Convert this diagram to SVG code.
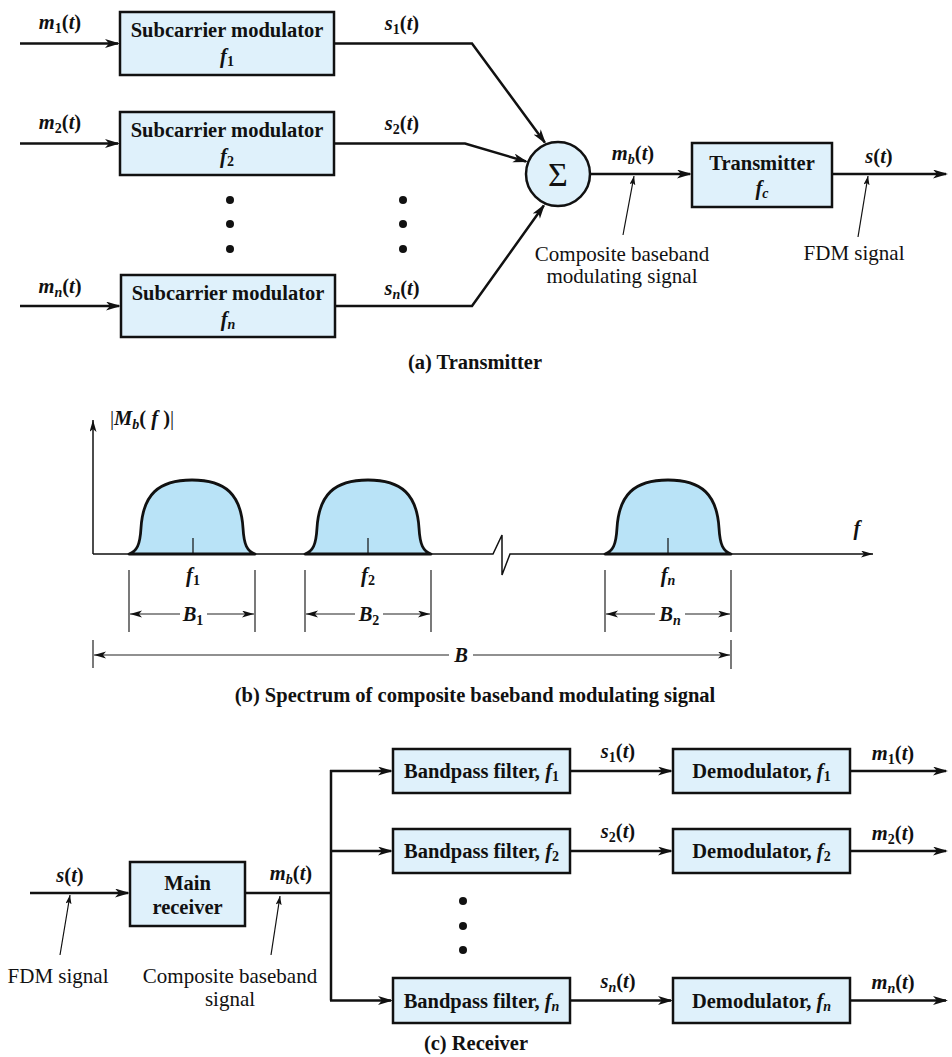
<svg xmlns="http://www.w3.org/2000/svg" width="952" height="1057" viewBox="0 0 952 1057" font-family="Liberation Serif, serif">
<style>
text{font-family:"Liberation Serif",serif;fill:#111;font-size:20.5px;font-weight:bold}
.r{font-size:21px;font-weight:normal}
.it{font-style:italic}
.sub{font-size:14px;font-style:normal}
.subi{font-size:14px;font-style:italic}
.box{fill:#dff1fb;stroke:#111;stroke-width:2.5}
.ln{fill:none;stroke:#111;stroke-width:2.5}
.thin{fill:none;stroke:#111;stroke-width:1.2}
.ax{fill:none;stroke:#111;stroke-width:1.5}
.dim{fill:none;stroke:#222;stroke-width:1.2}
.pulse{fill:#b9e3f7;stroke:#111;stroke-width:2.8;stroke-linejoin:round}
.dot{fill:#111}
</style>
<defs>
<marker id="ah" markerUnits="userSpaceOnUse" markerWidth="16" markerHeight="10" refX="13" refY="4.5" orient="auto"><path d="M0,0 L15,4.5 L0,9 L4,4.5 Z" fill="#111"/></marker>
<marker id="as" markerUnits="userSpaceOnUse" markerWidth="10" markerHeight="7" refX="9" refY="3" orient="auto"><path d="M0,0 L9,3 L0,6 L2,3 Z" fill="#111"/></marker>
<marker id="ad" markerUnits="userSpaceOnUse" markerWidth="13" markerHeight="8" refX="12" refY="3.5" orient="auto"><path d="M0,0 L12,3.5 L0,7 L3,3.5 Z" fill="#111"/></marker>
</defs>

<g id="connectors">
  <path class="ln" d="M20,43.5 H118" marker-end="url(#ah)"/>
  <path class="ln" d="M20,143.5 H118" marker-end="url(#ah)"/>
  <path class="ln" d="M20,306 H119" marker-end="url(#ah)"/>
  <path class="ln" d="M334,43.5 H472 L544.8,142.4" marker-end="url(#ah)"/>
  <path class="ln" d="M334,143.5 H465 L526,161.5" marker-end="url(#ah)"/>
  <path class="ln" d="M335,306 H472 L543.8,205.6" marker-end="url(#ah)"/>
  <path class="ln" d="M590,174 H690" marker-end="url(#ah)"/>
  <path class="ln" d="M832,174 H946" marker-end="url(#ah)"/>
  <path class="thin" d="M623,235 L634,176" marker-end="url(#as)"/>
  <path class="thin" d="M858,237 L868,176" marker-end="url(#as)"/>
  <path class="ln" d="M30,893 H128" marker-end="url(#ah)"/>
  <path class="ln" d="M245,893 H331"/>
  <path class="ln" d="M331,770 V1000.5"/>
  <path class="ln" d="M330,771 H391" marker-end="url(#ah)"/>
  <path class="ln" d="M330,851 H391" marker-end="url(#ah)"/>
  <path class="ln" d="M330,1000.5 H391" marker-end="url(#ah)"/>
  <path class="ln" d="M570,771 H671" marker-end="url(#ah)"/>
  <path class="ln" d="M570,851 H671" marker-end="url(#ah)"/>
  <path class="ln" d="M570,1000.5 H671" marker-end="url(#ah)"/>
  <path class="ln" d="M850,771 H946" marker-end="url(#ah)"/>
  <path class="ln" d="M850,851 H946" marker-end="url(#ah)"/>
  <path class="ln" d="M850,1000.5 H946" marker-end="url(#ah)"/>
  <path class="thin" d="M60,955 L70,895" marker-end="url(#as)"/>
  <path class="thin" d="M271,955 L280,896" marker-end="url(#as)"/>
</g>

<g id="sm1">
  <rect class="box" x="120" y="12" width="214" height="63"/>
  <text x="227" y="37" text-anchor="middle">Subcarrier modulator</text>
  <text x="227" y="63" text-anchor="middle"><tspan class="it">f</tspan><tspan class="sub" dy="3">1</tspan></text>
</g>
<g id="sm2">
  <rect class="box" x="120" y="112" width="214" height="63"/>
  <text x="227" y="137" text-anchor="middle">Subcarrier modulator</text>
  <text x="227" y="163" text-anchor="middle"><tspan class="it">f</tspan><tspan class="sub" dy="3">2</tspan></text>
</g>
<g id="smn">
  <rect class="box" x="121" y="275" width="214" height="62"/>
  <text x="228" y="300" text-anchor="middle">Subcarrier modulator</text>
  <text x="228" y="326" text-anchor="middle"><tspan class="it">f</tspan><tspan class="subi" dy="3">n</tspan></text>
</g>
<g id="sum">
  <circle cx="558" cy="174" r="32" fill="#dff1fb" stroke="#111" stroke-width="2.5"/>
  <text x="558" y="186" text-anchor="middle" style="font-size:34px;font-weight:normal">Σ</text>
</g>
<g id="tx">
  <rect class="box" x="692" y="143" width="140" height="64"/>
  <text x="762" y="170" text-anchor="middle">Transmitter</text>
  <text x="762" y="195" text-anchor="middle"><tspan class="it">f</tspan><tspan class="subi" dy="3">c</tspan></text>
</g>
<g id="tx-dots">
  <circle class="dot" cx="230" cy="200" r="4"/><circle class="dot" cx="230" cy="224" r="4"/><circle class="dot" cx="230" cy="249" r="4"/>
  <circle class="dot" cx="403" cy="200" r="4"/><circle class="dot" cx="403" cy="224" r="4"/><circle class="dot" cx="403" cy="249" r="4"/>
</g>
<g id="tx-labels">
  <text x="60" y="29" text-anchor="middle"><tspan class="it">m</tspan><tspan class="sub" dy="4">1</tspan><tspan dy="-4">(</tspan><tspan class="it">t</tspan>)</text>
  <text x="60" y="129" text-anchor="middle"><tspan class="it">m</tspan><tspan class="sub" dy="4">2</tspan><tspan dy="-4">(</tspan><tspan class="it">t</tspan>)</text>
  <text x="60" y="293" text-anchor="middle"><tspan class="it">m</tspan><tspan class="subi" dy="4">n</tspan><tspan dy="-4">(</tspan><tspan class="it">t</tspan>)</text>
  <text x="402" y="30" text-anchor="middle"><tspan class="it">s</tspan><tspan class="sub" dy="4">1</tspan><tspan dy="-4">(</tspan><tspan class="it">t</tspan>)</text>
  <text x="402" y="130" text-anchor="middle"><tspan class="it">s</tspan><tspan class="sub" dy="4">2</tspan><tspan dy="-4">(</tspan><tspan class="it">t</tspan>)</text>
  <text x="402" y="295" text-anchor="middle"><tspan class="it">s</tspan><tspan class="subi" dy="4">n</tspan><tspan dy="-4">(</tspan><tspan class="it">t</tspan>)</text>
  <text x="633" y="160" text-anchor="middle"><tspan class="it">m</tspan><tspan class="subi" dy="4">b</tspan><tspan dy="-4">(</tspan><tspan class="it">t</tspan>)</text>
  <text x="879" y="163" text-anchor="middle"><tspan class="it">s</tspan>(<tspan class="it">t</tspan>)</text>
  <text class="r" x="622" y="261" text-anchor="middle">Composite baseband</text>
  <text class="r" x="622" y="283" text-anchor="middle">modulating signal</text>
  <text class="r" x="854" y="260" text-anchor="middle">FDM signal</text>
  <text x="475" y="369" text-anchor="middle">(a) Transmitter</text>
</g>

<g id="spectrum">
  <path class="ax" d="M93,554 V420" marker-end="url(#ad)"/>
  <path class="ax" d="M93,554 H493 L502,535 V575 L510,554 H873" marker-end="url(#ad)"/>
  <path class="pulse" d="M129,554 C137,551 140,545 141,528 C143,495 158,480 192,480 C226,480 241,495 243,528 C244,545 247,551 255,554 Z"/>
  <path class="pulse" d="M305,554 C313,551 316,545 317,528 C319,495 334,480 368,480 C402,480 417,495 419,528 C420,545 423,551 431,554 Z"/>
  <path class="pulse" d="M605,554 C613,551 616,545 617,528 C619,495 634,480 668,480 C702,480 717,495 719,528 C720,545 723,551 731,554 Z"/>
  <path class="thin" d="M193,538 V554 M368,538 V554 M668,538 V554"/>
  <path class="dim" d="M129,570 V632 M255,570 V632 M305,570 V632 M431,570 V632 M605,570 V632 M731,570 V632 M93,640 V668 M731,640 V669"/>
  <path class="dim" d="M180,614 H130" marker-end="url(#ad)"/>
  <path class="dim" d="M207,614 H254" marker-end="url(#ad)"/>
  <path class="dim" d="M355,614 H306" marker-end="url(#ad)"/>
  <path class="dim" d="M383,614 H430" marker-end="url(#ad)"/>
  <path class="dim" d="M655,614 H606" marker-end="url(#ad)"/>
  <path class="dim" d="M685,614 H730" marker-end="url(#ad)"/>
  <path class="dim" d="M449,655 H94" marker-end="url(#ad)"/>
  <path class="dim" d="M473,655 H730" marker-end="url(#ad)"/>
  <text x="110" y="425"><tspan style="font-weight:normal">|</tspan><tspan class="it">M</tspan><tspan class="subi" dy="4">b</tspan><tspan dy="-4">(</tspan><tspan class="it"> f </tspan>)<tspan style="font-weight:normal">|</tspan></text>
  <text class="it" x="857" y="535" text-anchor="middle">f</text>
  <text x="193" y="582" text-anchor="middle"><tspan class="it">f</tspan><tspan class="sub" dy="3">1</tspan></text>
  <text x="368" y="582" text-anchor="middle"><tspan class="it">f</tspan><tspan class="sub" dy="3">2</tspan></text>
  <text x="668" y="582" text-anchor="middle"><tspan class="it">f</tspan><tspan class="subi" dy="3">n</tspan></text>
  <text x="193" y="621" text-anchor="middle"><tspan class="it">B</tspan><tspan class="sub" dy="4">1</tspan></text>
  <text x="369" y="621" text-anchor="middle"><tspan class="it">B</tspan><tspan class="sub" dy="4">2</tspan></text>
  <text x="670" y="621" text-anchor="middle"><tspan class="it">B</tspan><tspan class="subi" dy="4">n</tspan></text>
  <text class="it" x="461" y="662" text-anchor="middle">B</text>
  <text x="475" y="702" text-anchor="middle">(b) Spectrum of composite baseband modulating signal</text>
</g>

<g id="rx">
  <rect class="box" x="130" y="862" width="115" height="64"/>
  <text x="187.5" y="890" text-anchor="middle">Main</text>
  <text x="187.5" y="914" text-anchor="middle">receiver</text>
</g>
<g id="bpf1">
  <rect class="box" x="393" y="749" width="177" height="44"/>
  <text x="481.5" y="778" text-anchor="middle">Bandpass filter, <tspan class="it">f</tspan><tspan class="sub" dy="3">1</tspan></text>
</g>
<g id="bpf2">
  <rect class="box" x="393" y="829" width="177" height="44"/>
  <text x="481.5" y="858" text-anchor="middle">Bandpass filter, <tspan class="it">f</tspan><tspan class="sub" dy="3">2</tspan></text>
</g>
<g id="bpfn">
  <rect class="box" x="393" y="978" width="177" height="45"/>
  <text x="481.5" y="1008" text-anchor="middle">Bandpass filter, <tspan class="it">f</tspan><tspan class="subi" dy="3">n</tspan></text>
</g>
<g id="dem1">
  <rect class="box" x="673" y="749" width="177" height="44"/>
  <text x="761.5" y="778" text-anchor="middle">Demodulator, <tspan class="it">f</tspan><tspan class="sub" dy="3">1</tspan></text>
</g>
<g id="dem2">
  <rect class="box" x="673" y="829" width="177" height="44"/>
  <text x="761.5" y="858" text-anchor="middle">Demodulator, <tspan class="it">f</tspan><tspan class="sub" dy="3">2</tspan></text>
</g>
<g id="demn">
  <rect class="box" x="673" y="978" width="177" height="45"/>
  <text x="761.5" y="1008" text-anchor="middle">Demodulator, <tspan class="it">f</tspan><tspan class="subi" dy="3">n</tspan></text>
</g>
<g id="rx-dots">
  <circle class="dot" cx="463" cy="901" r="4"/><circle class="dot" cx="463" cy="926" r="4"/><circle class="dot" cx="463" cy="950" r="4"/>
</g>
<g id="rx-labels">
  <text x="70" y="882" text-anchor="middle"><tspan class="it">s</tspan>(<tspan class="it">t</tspan>)</text>
  <text x="291" y="880" text-anchor="middle"><tspan class="it">m</tspan><tspan class="subi" dy="4">b</tspan><tspan dy="-4">(</tspan><tspan class="it">t</tspan>)</text>
  <text x="618" y="758" text-anchor="middle"><tspan class="it">s</tspan><tspan class="sub" dy="4">1</tspan><tspan dy="-4">(</tspan><tspan class="it">t</tspan>)</text>
  <text x="618" y="838" text-anchor="middle"><tspan class="it">s</tspan><tspan class="sub" dy="4">2</tspan><tspan dy="-4">(</tspan><tspan class="it">t</tspan>)</text>
  <text x="618" y="988" text-anchor="middle"><tspan class="it">s</tspan><tspan class="subi" dy="4">n</tspan><tspan dy="-4">(</tspan><tspan class="it">t</tspan>)</text>
  <text x="893" y="760" text-anchor="middle"><tspan class="it">m</tspan><tspan class="sub" dy="4">1</tspan><tspan dy="-4">(</tspan><tspan class="it">t</tspan>)</text>
  <text x="893" y="840" text-anchor="middle"><tspan class="it">m</tspan><tspan class="sub" dy="4">2</tspan><tspan dy="-4">(</tspan><tspan class="it">t</tspan>)</text>
  <text x="893" y="989" text-anchor="middle"><tspan class="it">m</tspan><tspan class="subi" dy="4">n</tspan><tspan dy="-4">(</tspan><tspan class="it">t</tspan>)</text>
  <text class="r" x="58" y="983" text-anchor="middle">FDM signal</text>
  <text class="r" x="230" y="983" text-anchor="middle">Composite baseband</text>
  <text class="r" x="230" y="1006" text-anchor="middle">signal</text>
  <text x="476" y="1050" text-anchor="middle">(c) Receiver</text>
</g>
</svg>
